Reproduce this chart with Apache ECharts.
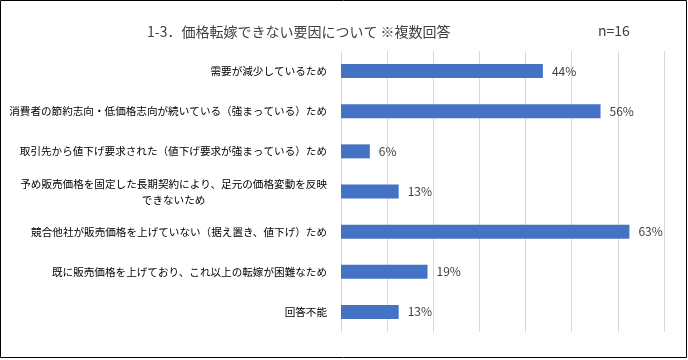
<!DOCTYPE html>
<html>
<head>
<meta charset="utf-8">
<script src="https://cdn.jsdelivr.net/npm/echarts@6/dist/echarts.min.js"></script>
<style>
html,body{margin:0;padding:0;background:#fff;}
#c{width:688px;height:360px;}
</style>
</head>
<body>
<div id="c"></div>
<script>
var titleText = '1-3．価格転嫁できない要因について ※複数回答';
var nText = 'n=16';
var categories = [
  '需要が減少しているため',
  '消費者の節約志向・低価格志向が続いている（強まっている）ため',
  '取引先から値下げ要求された（値下げ要求が強まっている）ため',
  '予め販売価格を固定した長期契約により、足元の価格変動を反映\nできないため',
  '競合他社が販売価格を上げていない（据え置き、値下げ）ため',
  '既に販売価格を上げており、これ以上の転嫁が困難なため',
  '回答不能'
];
var values = [43.75, 56.25, 6.25, 12.5, 62.5, 18.75, 12.5];

var FONT = '"Noto Sans CJK JP", "Noto Sans", sans-serif';
var chart = echarts.init(document.getElementById('c'));
chart.setOption({
  animation: false,
  backgroundColor: '#fff',
  textStyle: { fontFamily: FONT },
  graphic: [
    { type: 'rect', shape: { x: 0.5, y: 0.5, width: 686, height: 357 },
      style: { fill: 'none', stroke: '#000', lineWidth: 1 }, silent: true },
    { type: 'text', left: 147, top: 25,
      style: { text: titleText, font: '14px ' + FONT, fill: '#404040' } },
    { type: 'text', left: 598, top: 24,
      style: { text: nText, font: '14px ' + FONT, fill: '#404040' } }
  ],
  grid: { left: 341, right: 24, top: 51, bottom: 28, containLabel: false },
  xAxis: {
    type: 'value', min: 0, max: 70, interval: 10,
    axisLabel: { show: false }, axisLine: { show: false }, axisTick: { show: false },
    splitLine: { show: true, lineStyle: { color: '#d9d9d9', width: 1 } }
  },
  yAxis: {
    type: 'category', data: categories, inverse: true,
    axisLine: { show: false }, axisTick: { show: false },
    axisLabel: {
      margin: 14, fontSize: 10.6, color: '#000', fontFamily: FONT,
      formatter: function (v) {
        var parts = v.split('\n');
        if (parts.length > 1) {
          return '{a|' + parts[0] + '}\n{c|' + parts[1] + '}';
        }
        return v;
      },
      rich: {
        a: { fontSize: 10.6, color: '#000', lineHeight: 16, fontFamily: FONT },
        c: { fontSize: 10.6, color: '#000', lineHeight: 16, align: 'center', fontFamily: FONT }
      }
    }
  },
  series: [{
    type: 'bar', data: values, barWidth: 14,
    itemStyle: { color: '#4472C4' },
    label: {
      show: true, position: 'right', distance: 9,
      fontSize: 12, color: '#404040', fontFamily: FONT,
      formatter: function (p) { return Math.round(p.value) + '%'; }
    }
  }]
});
</script>
</body>
</html>
